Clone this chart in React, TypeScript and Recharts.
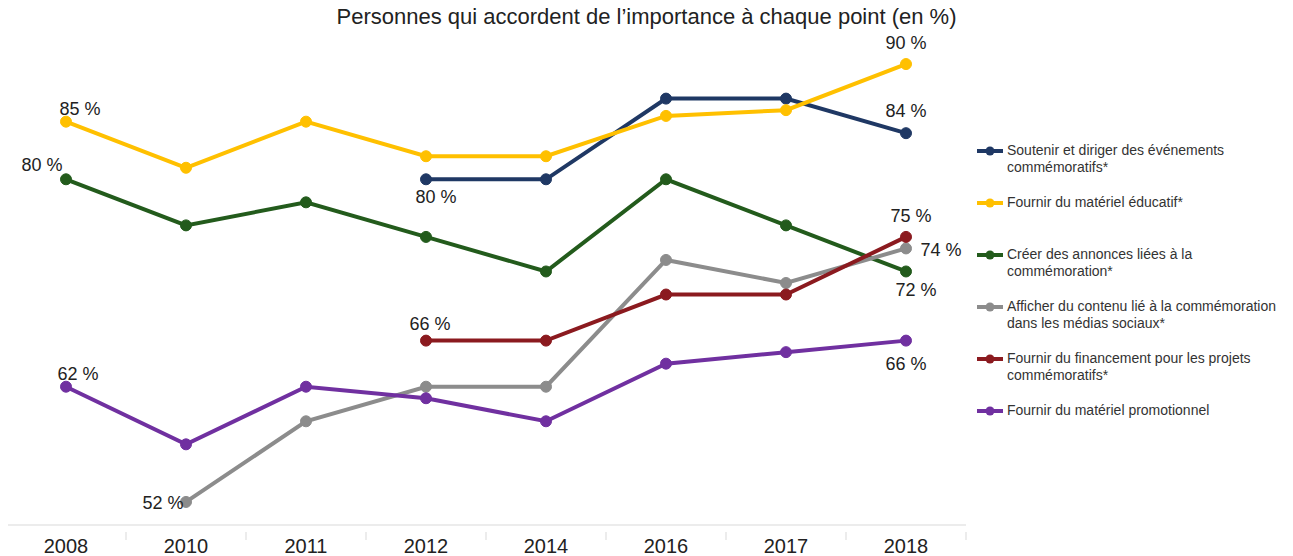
import React from 'react';
import { LineChart, Line, XAxis, YAxis } from 'recharts';

const years = ['2008', '2010', '2011', '2012', '2014', '2016', '2017', '2018'];

// valeurs en %, null = pas de mesure cette année-là
const soutenir = [null, null, null, 80, 80, 87, 87, 84];
const educatif = [85, 81, 85, 82, 82, 85.5, 86, 90];
const annonces = [80, 76, 78, 75, 72, 80, 76, 72];
const medias = [null, 52, 59, 62, 62, 73, 71, 74];
const financement = [null, null, null, 66, 66, 70, 70, 75];
const promo = [62, 57, 62, 61, 59, 64, 65, 66];

const series = [
  {
    key: 'soutenir',
    name: ['Soutenir et diriger des événements', 'commémoratifs*'],
    color: '#1f3864',
    values: soutenir,
    labels: { 3: [10, 18], 7: [0, -22] },
  },
  {
    key: 'educatif',
    name: ['Fournir du matériel éducatif*'],
    color: '#ffc000',
    values: educatif,
    labels: { 0: [14, -13], 7: [0, -21] },
  },
  {
    key: 'annonces',
    name: ['Créer des annonces liées à la', 'commémoration*'],
    color: '#235b1c',
    values: annonces,
    labels: { 0: [-24, -14], 7: [10, 19] },
  },
  {
    key: 'medias',
    name: ['Afficher du contenu lié à la commémoration', 'dans les médias sociaux*'],
    color: '#8c8c8c',
    values: medias,
    labels: { 1: [-23, 1], 7: [35, 2] },
  },
  {
    key: 'financement',
    name: ['Fournir du financement pour les projets', 'commémoratifs*'],
    color: '#8b1a1f',
    values: financement,
    labels: { 3: [4, -17], 7: [5, -21] },
  },
  {
    key: 'promo',
    name: ['Fournir du matériel promotionnel'],
    color: '#7030a0',
    values: promo,
    labels: { 0: [12, -13], 7: [0, 23] },
  },
];

const data = years.map((year, i) => {
  const row: any = { year };
  series.forEach((s) => {
    row[s.key] = s.values[i];
  });
  return row;
});

const FONT = '"Liberation Sans", Arial, sans-serif';

const YearTick = (props: any) => {
  const { x, y, payload, index } = props;
  const half = 60;
  return (
    <g>
      <line x1={x + half} y1={y - 1} x2={x + half} y2={y + 7} stroke="#d9d9d9" />
      {index === 0 && <line x1={x - half} y1={y - 1} x2={x - half} y2={y + 7} stroke="#d9d9d9" />}
      <text x={x} y={y + 20} textAnchor="middle" fontSize={20} fill="#222" fontFamily={FONT}>
        {payload.value}
      </text>
    </g>
  );
};

const makeLabel = (labels: Record<number, number[]>) => (props: any) => {
  const { x, y, value, index } = props;
  const spec = labels[index];
  if (!spec || value == null) return null;
  return (
    <text
      x={x + spec[0]}
      y={y + spec[1]}
      textAnchor="middle"
      dominantBaseline="central"
      fontSize={18}
      fill="#222"
      fontFamily={FONT}
    >
      {`${Math.round(value)} %`}
    </text>
  );
};

const LegendBox = () => (
  <div
    style={{
      position: 'absolute',
      left: 975,
      top: 142,
      width: 318,
      fontFamily: FONT,
      fontSize: 14,
      color: '#333',
      lineHeight: '17px',
    }}
  >
    {series.map((s) => (
      <div key={s.key} style={{ display: 'flex', alignItems: 'flex-start', height: 52 }}>
        <svg width={32} height={17} style={{ flex: 'none' }}>
          <line x1={2} y1={9} x2={28} y2={9} stroke={s.color} strokeWidth={4} />
          <circle cx={15} cy={9} r={4.5} fill={s.color} />
        </svg>
        <div>
          {s.name.map((line) => (
            <div key={line}>{line}</div>
          ))}
        </div>
      </div>
    ))}
  </div>
);

export default function App() {
  return (
    <div style={{ position: 'relative', margin: '-8px 0 0 -8px', width: 1293, height: 556, background: '#fff' }}>
      <div
        style={{
          position: 'absolute',
          top: 4,
          left: 0,
          width: 1293,
          textAlign: 'center',
          fontFamily: FONT,
          fontSize: 22,
          color: '#222',
        }}
      >
        Personnes qui accordent de l’importance à chaque point (en %)
      </div>
      <LineChart width={1293} height={556} data={data} margin={{ top: 41, right: 327, left: 6, bottom: 0 }}>
        <XAxis
          dataKey="year"
          height={31}
          stroke="#d9d9d9"
          tickLine={false}
          tick={<YearTick />}
          interval={0}
          padding={{ left: 60, right: 60 }}
        />
        <YAxis hide domain={[50, 92]} />
        {series.map((s) => (
          <Line
            key={s.key}
            dataKey={s.key}
            name={s.name.join(' ')}
            stroke={s.color}
            strokeWidth={4}
            dot={{ r: 5.5, fill: s.color, stroke: s.color, strokeWidth: 1 }}
            activeDot={false}
            isAnimationActive={false}
            label={makeLabel(s.labels)}
          />
        ))}
      </LineChart>
      <LegendBox />
    </div>
  );
}
